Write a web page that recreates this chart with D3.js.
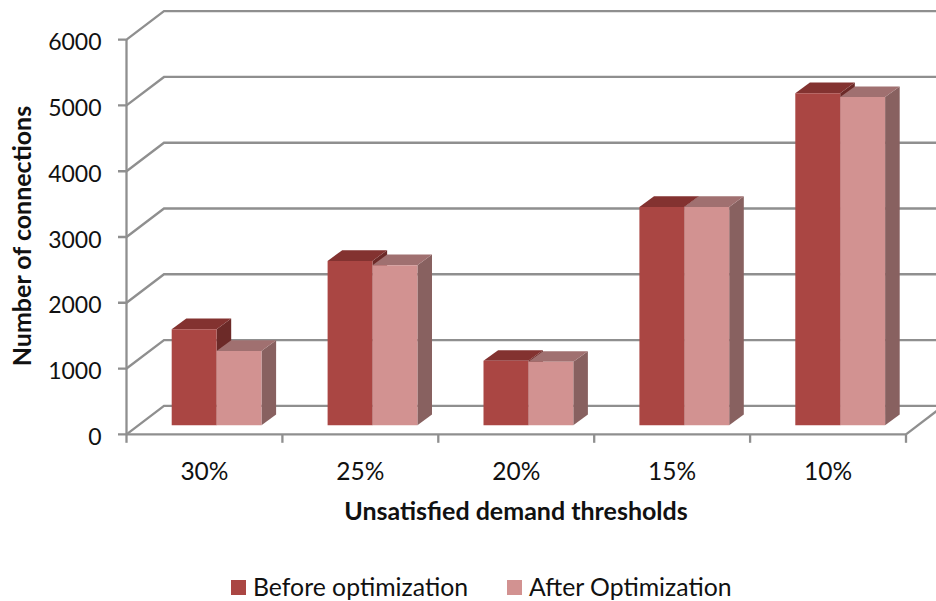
<!DOCTYPE html>
<html>
<head>
<meta charset="utf-8">
<script src="https://cdn.jsdelivr.net/npm/d3@7/dist/d3.min.js"></script>
<style>
html,body{margin:0;padding:0;background:#fff}
svg{display:block}
text{font-family:Lato,"Open Sans",sans-serif;fill:#111}
</style>
</head>
<body>
<svg id="chart" width="936" height="601"></svg>
<script>
const categories = ["30%", "25%", "20%", "15%", "10%"];
const beforeValues = [1460, 2500, 980, 3320, 5050];
const afterValues = [1130, 2435, 965, 3320, 4990];
const yTicks = [0, 1000, 2000, 3000, 4000, 5000, 6000];
const seriesNames = ["Before optimization", "After Optimization"];

const svg = d3.select("#chart");
const W = 936;
const gridColor = "#8f8f8f";

const x = d3.scaleBand().domain(categories).range([126.5, 906]);
const y = d3.scaleLinear().domain([0, 6000]).range([434.3, 39.7]);

// Oblique offsets for the chart box and for the depth of each column
const wall = { dx: 37.5, dy: -28.5 };
const col = { dx: 14.6, dy: -10.7, inset: 45.2, width: 44.9, lift: -9 };

const palette = [
  { front: "#AA4643", top: "#833230", side: "#6C2A28" },
  { front: "#D29291", top: "#A07070", side: "#886160" }
];

// Back wall gridlines and their returns along the side wall
const grid = svg.append("g").attr("fill", "none").attr("stroke", gridColor).attr("stroke-width", 2.3);
yTicks.forEach(t => {
  const yy = y(t);
  grid.append("polyline")
    .attr("points", [[118, yy], [x.range()[0], yy], [x.range()[0] + wall.dx, yy + wall.dy], [W, yy + wall.dy]].join(" "));
});

// Front axis edges, category ticks and the floor's right-hand return
const [x0, x1] = x.range();
grid.append("line").attr("x1", x0).attr("x2", x0).attr("y1", y(6000)).attr("y2", y(0));
grid.append("line").attr("x1", x0).attr("x2", x1).attr("y1", y(0)).attr("y2", y(0));
grid.append("line").attr("x1", x1).attr("y1", y(0)).attr("x2", x1 + wall.dx).attr("y2", y(0) + wall.dy);
categories.forEach(c => {
  grid.append("line").attr("x1", x(c)).attr("x2", x(c)).attr("y1", y(0)).attr("y2", y(0) + 8.5);
});
grid.append("line").attr("x1", x1).attr("x2", x1).attr("y1", y(0)).attr("y2", y(0) + 8.5);

// Draws one extruded column: side and top first, front face last
function column(g, left, value, colors) {
  const right = left + col.width;
  const base = y(0) + col.lift;
  const top = y(value) + col.lift;
  const poly = (pts, fill) => g.append("polygon").attr("points", pts.join(" ")).attr("fill", fill);
  poly([[right, top], [right + col.dx, top + col.dy], [right + col.dx, base + col.dy], [right, base]], colors.side);
  poly([[left, top], [left + col.dx, top + col.dy], [right + col.dx, top + col.dy], [right, top]], colors.top);
  poly([[left, top], [right, top], [right, base], [left, base]], colors.front);
}

const bars = svg.append("g");
categories.forEach((c, i) => {
  const left = x(c) + col.inset;
  column(bars, left, beforeValues[i], palette[0]);
  column(bars, left + col.width, afterValues[i], palette[1]);
});

// Value axis labels
svg.append("g").selectAll("text").data(yTicks).join("text")
  .attr("x", 101.5).attr("y", d => y(d) + 10.5)
  .attr("text-anchor", "end").attr("font-size", 23)
  .text(d => d);

// Category labels
svg.append("g").selectAll("text").data(categories).join("text")
  .attr("x", d => x(d) + x.bandwidth() / 2).attr("y", 480)
  .attr("text-anchor", "middle").attr("font-size", 24.5)
  .text(d => d);

// Axis titles
svg.append("text").attr("x", 516).attr("y", 519.5)
  .attr("text-anchor", "middle").attr("font-size", 25).attr("font-weight", 700)
  .text("Unsatisfied demand thresholds");
svg.append("text").attr("transform", "translate(31,236) rotate(-90)")
  .attr("text-anchor", "middle").attr("font-size", 25).attr("font-weight", 700)
  .text("Number of connections");

// Legend
const legendX = [231, 507];
seriesNames.forEach((name, i) => {
  svg.append("rect").attr("x", legendX[i]).attr("y", 580).attr("width", 15).attr("height", 15).attr("fill", palette[i].front);
  svg.append("text").attr("x", legendX[i] + 22).attr("y", 595.5).attr("font-size", 24.8).text(name);
});
</script>
</body>
</html>
